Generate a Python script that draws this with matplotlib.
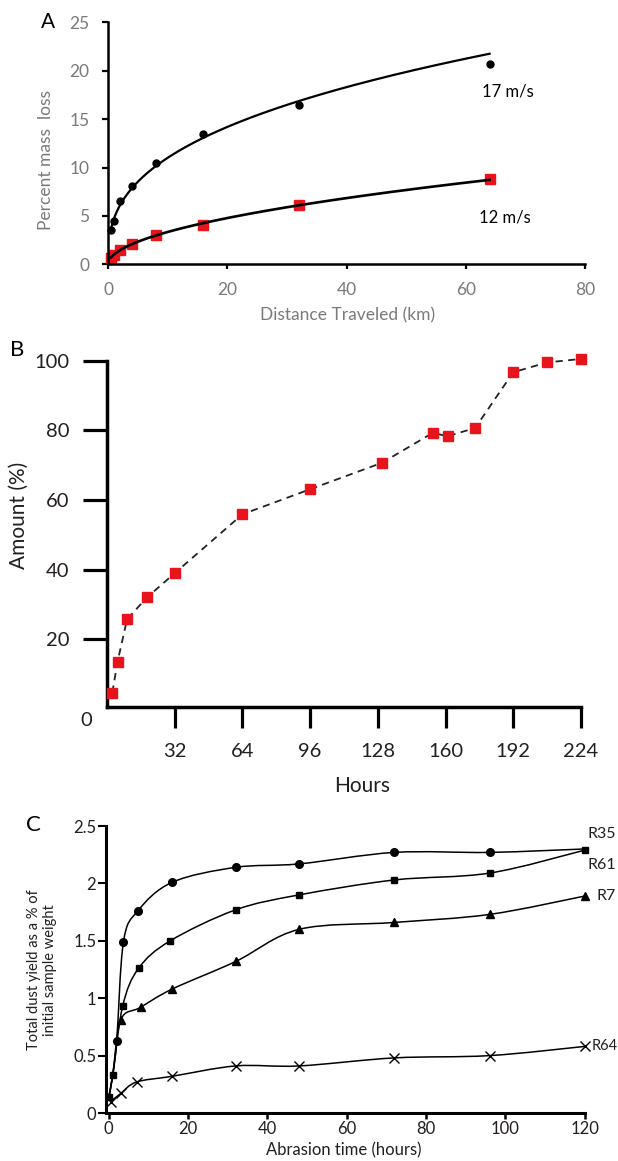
import numpy as np
import matplotlib
matplotlib.use('Agg')
import matplotlib.pyplot as plt
from matplotlib.path import Path
from matplotlib.patches import PathPatch

plt.rcParams['font.family'] = ['Lato', 'DejaVu Sans']

# ---- Panel A: mass loss vs distance
distance_km = [0.5, 1, 2, 4, 8, 16, 32, 64]
loss_17 = [3.5, 4.5, 6.5, 8.1, 10.5, 13.5, 16.5, 20.7]
loss_12 = [0.7, 1.0, 1.5, 2.1, 3.0, 4.1, 6.1, 8.8]

# ---- Panel B: amount vs hours
hours = [2.5, 5, 9.5, 19, 32, 64, 96, 130, 154, 161, 174, 192, 208, 224]
amount = [4.7, 13.6, 25.8, 32.1, 39.0, 55.9, 63.1, 70.7, 79.3, 78.3, 80.7, 96.7, 99.5, 100.5]

# ---- Panel C: dust yield vs abrasion time
t_r35 = [0, 1, 2, 3.7, 7.3, 16, 32, 48, 72, 96, 120]
r35 = [0.14, 0.33, 0.63, 1.49, 1.76, 2.01, 2.14, 2.17, 2.27, 2.27, 2.30]
t_r61 = [0, 1, 3.5, 7.5, 15.5, 32, 48, 72, 96, 120]
r61 = [0.14, 0.33, 0.93, 1.26, 1.50, 1.77, 1.90, 2.03, 2.09, 2.29]
t_r7 = [0, 1, 3, 8, 16, 32, 48, 72, 96, 120]
r7 = [0.14, 0.33, 0.81, 0.92, 1.08, 1.32, 1.60, 1.66, 1.73, 1.89]
t_r64 = [0.5, 3, 7, 16, 32, 48, 72, 96, 120]
r64 = [0.10, 0.17, 0.27, 0.32, 0.41, 0.41, 0.48, 0.50, 0.58]

RED = '#e8141c'
GREY = '#7a7a7a'
DARK = '#231f20'


def smooth_path(xs, ys):
    # catmull-rom through the points, as bezier segments
    pts = np.column_stack([xs, ys]).astype(float)
    n = len(pts)
    verts = [pts[0]]
    codes = [Path.MOVETO]
    for i in range(n - 1):
        p0 = pts[i - 1] if i > 0 else pts[i]
        p1 = pts[i]
        p2 = pts[i + 1]
        p3 = pts[i + 2] if i + 2 < n else pts[i + 1]
        verts += [p1 + (p2 - p0) / 6, p2 - (p3 - p1) / 6, p2]
        codes += [Path.CURVE4] * 3
    return Path(verts, codes)


def power_fit(x, y):
    b, lna = np.polyfit(np.log(x), np.log(y), 1)
    xs = np.linspace(min(x), max(x), 200)
    return xs, np.exp(lna) * xs ** b


fig = plt.figure(figsize=(6.18, 11.61), dpi=100)

# ================= A
axA = fig.add_axes([0.17476, 0.77235, 0.77184, 0.20844])
xs, ys = power_fit(distance_km, loss_17)
axA.plot(xs, ys, color='black', lw=1.6, clip_on=False)
xs, ys = power_fit(distance_km, loss_12)
axA.plot(xs, ys, color='black', lw=1.9, clip_on=False, zorder=3)
axA.plot(distance_km, loss_17, 'o', color='black', ms=5, clip_on=False)
axA.plot(distance_km, loss_12, 's', color=RED, ms=6.5, mec=RED, clip_on=False, zorder=2)
axA.set_xlim(0, 80)
axA.set_ylim(0, 25)
axA.set_xticks([0, 20, 40, 60, 80])
axA.set_yticks([0, 5, 10, 15, 20, 25])
for s in ['top', 'right']:
    axA.spines[s].set_visible(False)
for s in ['left', 'bottom']:
    axA.spines[s].set_linewidth(1.8)
axA.tick_params(axis='y', direction='out', length=4.3, width=1.6, pad=9,
                labelsize=12.5, labelcolor=GREY)
axA.tick_params(axis='x', direction='out', length=3.5, width=1.6, pad=9,
                labelsize=12.5, labelcolor=GREY)
axA.set_xlabel('Distance Traveled (km)', fontsize=12.5, color=GREY, va='center')
axA.xaxis.set_label_coords(0.503, -0.2095)
axA.set_ylabel('Percent mass  loss', fontsize=12.5, color=GREY, va='center')
axA.yaxis.set_label_coords(-0.13, 0.431)
axA.text(67.1, 17.9, '17 m/s', fontsize=12, ha='center', va='center')
axA.text(66.6, 4.84, '12 m/s', fontsize=12, ha='center', va='center')
axA.text(-0.1264, 1.0, 'A', transform=axA.transAxes, fontsize=15,
         ha='center', va='center')

# ================= B
axB = fig.add_axes([0.17314, 0.39078, 0.76699, 0.29854])
axB.plot(hours, amount, color='#222222', lw=1.3, dashes=(4, 3), clip_on=False)
axB.plot(hours, amount, 's', color=RED, mec=RED, ms=7.5, clip_on=False, zorder=3)
axB.set_xlim(0, 224)
axB.set_ylim(0.5, 100)
axB.set_xticks([32, 64, 96, 128, 160, 192, 224])
axB.set_yticks([20, 40, 60, 80, 100])
for s in ['top', 'right']:
    axB.spines[s].set_visible(False)
for s in ['left', 'bottom']:
    axB.spines[s].set_linewidth(2.5)
    axB.spines[s].set_capstyle('projecting')
axB.tick_params(axis='y', direction='out', length=17, width=2.3, pad=10,
                labelsize=14.5, labelcolor=DARK)
axB.tick_params(axis='x', direction='out', length=15, width=2.3, pad=11,
                labelsize=14.5, labelcolor=DARK)
axB.set_xlabel('Hours', fontsize=15, color=DARK, va='center')
axB.xaxis.set_label_coords(0.538, -0.227)
axB.set_ylabel('Amount (%)', fontsize=15, color=DARK, va='center')
axB.yaxis.set_label_coords(-0.187, 0.555)
axB.text(-0.0428, -0.0387, '0', transform=axB.transAxes, fontsize=14.5,
         color=DARK, ha='center', va='center')
axB.text(-0.1905, 1.031, 'B', transform=axB.transAxes, fontsize=16,
         ha='center', va='center')

# ================= C
axC = fig.add_axes([0.17152, 0.04134, 0.77476, 0.2472])
for tx, vy in [(t_r35, r35), (t_r61, r61), (t_r7, r7), (t_r64, r64)]:
    axC.add_patch(PathPatch(smooth_path(tx, vy), fill=False, ec='black',
                            lw=1.1, clip_on=False))
axC.plot(t_r35[2:-1], r35[2:-1], 'o', color='black', ms=5.5, clip_on=False)
axC.plot(t_r61, r61, 's', color='black', ms=4.8, clip_on=False)
axC.plot(t_r7[2:], r7[2:], '^', color='black', ms=5.5, clip_on=False)
axC.plot(t_r64, r64, 'x', color='black', ms=7, mew=1.0, clip_on=False)
axC.set_xlim(-0.7, 120)
axC.set_ylim(0, 2.5)
axC.set_xticks([0, 20, 40, 60, 80, 100, 120])
axC.set_yticks([0, 0.5, 1, 1.5, 2, 2.5])
axC.set_yticklabels(['0', '0.5', '1', '1.5', '2', '2.5'])
for s in ['top', 'right']:
    axC.spines[s].set_visible(False)
for s in ['left', 'bottom']:
    axC.spines[s].set_linewidth(2.2)
axC.tick_params(axis='y', direction='out', length=6, width=1.5, pad=1,
                labelsize=12, labelcolor=DARK)
axC.tick_params(axis='x', direction='out', length=4.5, width=1.8, pad=1,
                labelsize=12, labelcolor=DARK)
axC.set_xlabel('Abrasion time (hours)', fontsize=12, color=DARK, va='center')
axC.xaxis.set_label_coords(0.497, -0.1307)
axC.set_ylabel('Total dust yield as a % of\ninitial sample weight', fontsize=10.5,
               color=DARK, va='center', linespacing=1.2)
axC.yaxis.set_label_coords(-0.134, 0.498)
for name, lx, ly, fs in [('R35', 120.6, 2.43, 11.5), ('R61', 120.8, 2.16, 11.5),
                         ('R7', 123.0, 1.89, 11.5), ('R64', 121.8, 0.58, 10.5)]:
    axC.text(lx, ly, name, fontsize=fs, color=DARK, ha='left', va='center')
axC.text(-0.1514, 1.0035, 'C', transform=axC.transAxes, fontsize=16,
         ha='center', va='center')

fig.savefig('out.png', dpi=100)
